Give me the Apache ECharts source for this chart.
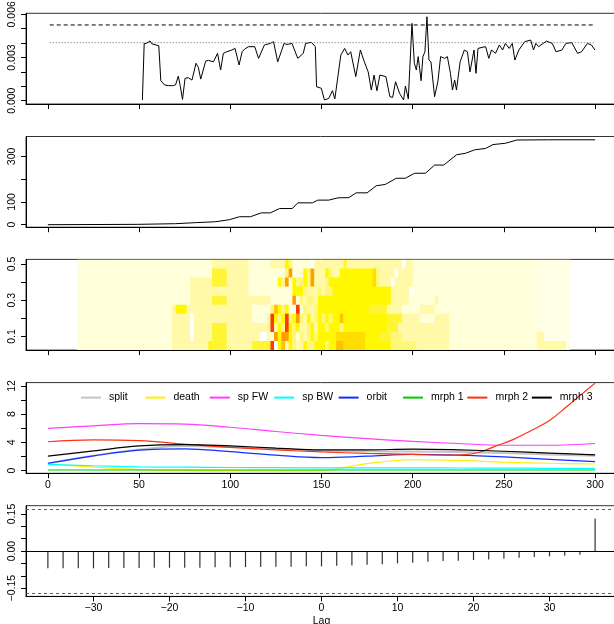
<!DOCTYPE html>
<html><head><meta charset="utf-8">
<script src="https://cdn.jsdelivr.net/npm/echarts@6/dist/echarts.min.js"></script>
<style>html,body{margin:0;padding:0;background:#fff}#c{width:614px;height:624px}</style>
</head><body><div id="c"></div><script>
// ---------- Panel 1: rate series (values in units of 0.001) ----------
const rateX = [51.8,52.8,54,56,57,60.8,61.9,64,66,68.3,70,71.5,72.6,73.8,75.2,77,79,81.2,82.5,83.8,86.5,88,90.8,93,94.7,96.2,98,100.5,102.6,104.8,106.5,108,110,113.4,115.5,118.7,122,123.7,126,129.5,131,133.8,137,140,141.3,144.5,146.6,147.3,149.9,151.6,154,156,157.3,160.6,162.7,164.5,166,168.8,171.3,173.5,175.6,177.3,178.8,180.4,182,185.3,187.5,189,190.6,192.8,195,196,197.6,199.6,200.9,202,203,204.6,205.6,206.7,207.8,208.9,210,212,213.8,215.3,217.5,219,220.7,221.8,223,224,226,228.3,230,231.4,233.6,234.7,235.8,238,240,241.7,243.2,245.4,247.5,249.3,250.8,252.9,254.6,256,258.2,261.4,264.7,266.2,267.5,269,273.3,276.5,278.6,281.8,284,287.2,290.4,292.6,295.8,298,299.9];
const rateK = [0.05,3.98,3.98,4.15,3.95,3.82,1.39,1.09,1.05,1.04,1.1,1.71,1.0,0.09,1.55,1.6,1.43,2.6,2.3,1.5,2.75,2.8,2.7,3.29,2.13,3.29,3.4,3.5,3.63,2.48,3.4,3.6,3.75,3.75,2.94,3.87,3.98,4.1,2.7,3.98,3.9,3.98,2.94,3.29,3.98,4.05,3.75,0.97,0.86,0.05,0.16,0.7,0.12,3.17,3.63,3.17,3.4,1.67,3.52,2.7,2.0,0.74,1.78,0.69,1.78,1.67,0.28,0.23,1.32,0.51,0.05,1.02,0.12,5.37,2.6,2.13,3.06,1.39,3.06,3.4,5.83,2.82,2.7,0.28,1.32,3.06,2.94,3.06,1.9,0.74,1.43,0.74,2.7,3.52,3.4,2.0,3.52,1.9,3.63,3.7,3.75,2.94,3.52,3.29,3.87,3.52,3.98,3.63,3.98,2.82,3.52,4.1,4.21,3.52,3.98,3.75,4.14,3.98,3.4,3.52,3.98,4.03,3.29,3.4,3.98,3.87,3.52];
const rateDashed = 5.26;
const rateDotted = 4.03;
const rateRefX = [1, 300];

// ---------- Panel 2: cumulative count ----------
const cumX = [0,49,70,81,92,99.5,105,111,117,122,127,134,137,145,148,154,159,165,169,175,180,185,191,196,201,207,212,217,224,229,234,240,244,251,257,274,300];
const cumY = [0,1.5,4.4,9,13,22,35,35,52,52,71,71,96,96,108,108,118,119,140,140,171,177,204,204,226,226,262,262,307,314,329,335,352,358,372,373,373];

// ---------- Panel 3: heat map (runs: [from, to, level]) ----------
const heatFreq = [0.50,0.45,0.40,0.35,0.30,0.25,0.20,0.15,0.10,0.05];
const heatRows = [
 [[16,90,1],[90,110,3],[110,122,1],[122,130,3],[130,132,6],[132,134,4],[134,144,1],[144,146,0],[146,162,3],[162,164,5],[164,194,3],[194,196,0],[196,200,3],[200,268,1],[268,286,2]],
 [[16,90,1],[90,98,5],[98,110,3],[110,130,1],[130,132,4],[132,134,9],[134,140,1],[140,142,6],[142,144,4],[144,146,9],[146,152,3],[152,154,6],[154,156,4],[156,160,3],[160,178,6],[178,180,7],[180,182,4],[182,190,3],[190,192,0],[192,200,3],[200,268,1],[268,286,2]],
 [[16,78,1],[78,90,3],[90,98,5],[98,110,3],[110,126,1],[126,128,6],[128,130,4],[130,132,9],[132,134,1],[134,136,6],[136,140,4],[140,142,6],[142,144,4],[144,146,9],[146,152,3],[152,154,4],[154,178,6],[178,180,7],[180,182,4],[182,188,3],[188,190,0],[190,200,3],[200,268,1],[268,286,2]],
 [[16,78,1],[78,110,3],[110,134,1],[134,140,6],[140,142,4],[142,148,3],[148,150,4],[150,152,3],[152,156,4],[156,188,6],[188,198,3],[198,200,0],[200,268,1],[268,286,2]],
 [[16,78,1],[78,90,3],[90,98,5],[98,122,3],[122,134,1],[134,136,9],[136,138,1],[138,140,4],[140,142,3],[142,146,4],[146,148,3],[148,188,6],[188,198,3],[198,212,1],[212,214,3],[214,268,1],[268,286,2]],
 [[16,68,1],[68,70,3],[70,76,6],[76,112,3],[112,122,1],[122,124,4],[124,126,8],[126,128,6],[128,130,4],[130,132,6],[132,134,1],[134,136,0],[136,138,10],[138,140,1],[140,142,4],[142,146,3],[146,148,4],[148,176,6],[176,186,5],[186,194,3],[194,204,1],[204,212,3],[212,268,1],[268,286,2]],
 [[16,68,1],[68,78,3],[78,80,0],[80,112,3],[112,120,1],[120,122,3],[122,124,10],[124,126,6],[126,128,4],[128,130,6],[130,132,10],[132,134,4],[134,136,6],[136,138,9],[138,140,4],[140,142,3],[142,144,6],[144,146,3],[146,148,4],[148,150,6],[150,152,4],[152,154,6],[154,156,4],[156,160,6],[160,162,8],[162,186,6],[186,194,5],[194,204,3],[204,212,1],[212,220,3],[220,268,1],[268,286,2]],
 [[16,68,1],[68,78,3],[78,80,0],[80,90,3],[90,98,5],[98,122,3],[122,124,10],[124,126,3],[126,128,6],[128,130,4],[130,132,10],[132,134,6],[134,136,4],[136,138,6],[138,142,3],[142,144,4],[144,146,6],[146,148,3],[148,152,6],[152,154,4],[154,160,6],[160,162,4],[162,186,6],[186,192,5],[192,220,3],[220,268,1],[268,286,2]],
 [[16,68,1],[68,78,3],[78,80,0],[80,90,3],[90,98,5],[98,116,3],[116,120,0],[120,122,3],[122,124,1],[124,126,9],[126,128,6],[128,132,9],[132,134,6],[134,136,4],[136,138,1],[138,140,4],[140,142,3],[142,144,4],[144,146,6],[146,148,4],[148,158,6],[158,174,7],[174,182,6],[182,188,5],[188,194,4],[194,220,3],[220,268,1],[268,272,3],[272,286,2]],
 [[16,68,1],[68,88,3],[88,90,6],[90,98,5],[98,112,3],[112,122,5],[122,124,10],[124,126,0],[126,128,6],[128,130,8],[130,132,3],[132,134,6],[134,136,4],[136,140,3],[140,142,6],[142,146,4],[146,152,6],[152,154,4],[154,158,6],[158,162,8],[162,174,7],[174,188,6],[188,202,4],[202,220,3],[220,268,1],[268,284,3],[284,286,2]]
];
const heatPalette = ['#FFFFFF','#FFFFDA','#FFFFE6','#FFF9A8','#FFF67C','#FFF535','#FFF800','#FFDD00','#FFC200','#FF9E00','#FF3C00'];

// ---------- Panel 4: smoothed rates ----------
const smX = [0,25,50,75,100,125,150,175,200,225,250,275,300];
const smSplit = [1.0,2.1,3.0,3.5,3.35,3.1,2.85,2.75,2.7,2.65,2.5,2.3,2.1];
const smDeath = [0.95,0.5,0.15,0.03,0.0,0.0,0.05,1.0,1.55,1.45,1.2,1.05,0.95];
const smSpFW = [6.0,6.35,6.65,6.6,6.15,5.55,5.0,4.55,4.15,3.85,3.6,3.6,3.85];
const smSpBW = [0.9,0.7,0.55,0.5,0.45,0.42,0.4,0.4,0.4,0.38,0.36,0.34,0.33];
const smOrbit = [1.05,2.1,2.9,3.1,2.7,2.2,1.85,2.05,2.3,2.2,1.95,1.6,1.28];
const smMrph1 = [0.1,0.1,0.1,0.1,0.1,0.1,0.1,0.1,0.1,0.1,0.1,0.1,0.1];
const smMrph3 = [2.05,2.8,3.5,3.7,3.5,3.2,2.95,2.95,3.05,2.95,2.75,2.5,2.25];
const m2X = [0,25,50,75,100,125,150,175,200,220,235,245,255,265,275,285,292,300];
const smMrph2 = [4.1,4.35,4.25,3.75,3.3,2.95,2.65,2.45,2.3,2.2,2.5,3.45,4.4,5.7,7.1,9.2,10.7,12.4];
const legendNames = ['split','death','sp FW','sp BW','orbit','mrph 1','mrph 2','mrph 3'];
const legendColors = ['#C4C4C4','#FFF000','#FF3CFF','#00FFFF','#1030FF','#00CC00','#FF3010','#000000'];

// ---------- Panel 5: cross-correlation ----------
const ccfLag = [-36,-34,-32,-30,-28,-26,-24,-22,-20,-18,-16,-14,-12,-10,-8,-6,-4,-2,0,2,4,6,8,10,12,14,16,18,20,22,24,26,28,30,32,34,36];
const ccfVal = [-0.070,-0.070,-0.070,-0.070,-0.069,-0.069,-0.069,-0.0676,-0.0676,-0.0676,-0.0676,-0.066,-0.066,-0.065,-0.065,-0.0635,-0.0635,-0.062,-0.062,-0.0595,-0.058,-0.055,-0.053,-0.050,-0.047,-0.043,-0.0405,-0.039,-0.0365,-0.034,-0.031,-0.027,-0.024,-0.0216,-0.019,-0.015,0.132];
const ccfBound = 0.169;

// ---------- Axis ticks / labels ----------
const tTicks = [0,50,100,150,200,250,300];
const p1Ticks = [0,1,2,3,4,5,6], p1Labels = [0,3,6];
const p2Ticks = [0,100,200,300], p2Labels = [0,100,300];
const p3Ticks = [0.1,0.2,0.3,0.4,0.5], p3Labels = [0.1,0.3,0.5];
const p4Ticks = [0,2,4,6,8,10,12], p4Labels = [0,4,8,12];
const p5YTicks = [-0.15,-0.10,-0.05,0,0.05,0.10,0.15], p5YLabels = [-0.15,0,0.15];
const p5XTicks = [-30,-20,-10,0,10,20,30];

const FONT = '"Liberation Sans", Arial, Helvetica, sans-serif';
const FS = 10.5;
const L = 26, W = 591, H = 90.7;
const tops = [13.3, 136.5, 259.4, 382.6, 505.7];
const minus = s => String(s).replace('-', '\u2212');

const grids = tops.map(t => ({left: L, top: t, width: W, height: H, show: true, containLabel: false, outerBoundsMode: 'none',
  borderColor: '#333', borderWidth: 1, backgroundColor: 'transparent'}));

function xAx(i, min, max, ticks, showLabels, fmt, name) {
  return {
    type: 'value', gridIndex: i, min: min, max: max, position: 'bottom',
    axisLine: {show: true, onZero: false, lineStyle: {color: '#000', width: 1}},
    axisTick: {show: true, length: 5, customValues: ticks, lineStyle: {color: '#000'}},
    axisLabel: {show: showLabels, customValues: ticks, margin: 6, color: '#000', fontSize: FS, fontFamily: FONT, formatter: fmt || (v => String(v))},
    splitLine: {show: false},
    name: name || '', nameLocation: 'middle', nameGap: 19,
    nameTextStyle: {color: '#000', fontSize: FS, fontFamily: FONT}
  };
}
function yAx(i, min, max, ticks, labels, fmt) {
  return {
    type: 'value', gridIndex: i, min: min, max: max,
    axisLine: {show: true, onZero: false, lineStyle: {color: '#000', width: 1}},
    axisTick: {show: true, length: 5, customValues: ticks, lineStyle: {color: '#000'}},
    axisLabel: {show: true, customValues: labels, rotate: 90, margin: 8, color: '#000', fontSize: FS, fontFamily: FONT, formatter: fmt || (v => String(v))},
    splitLine: {show: false}
  };
}

const xAxes = [
  xAx(0, -12, 312, tTicks, false),
  xAx(1, -12, 312, tTicks, false),
  xAx(2, -12, 312, tTicks, false),
  xAx(3, -12, 312, tTicks, true),
  xAx(4, -38.88, 38.88, p5XTicks, true, v => minus(v), 'Lag')
];
const yAxes = [
  yAx(0, -0.23, 6.07, p1Ticks, p1Labels, v => (v / 1000).toFixed(3)),
  yAx(1, -11, 387.5, p2Ticks, p2Labels),
  yAx(2, 0.025, 0.525, p3Ticks, p3Labels, v => v.toFixed(1)),
  yAx(3, -0.37, 12.47, p4Ticks, p4Labels),
  yAx(4, -0.1836, 0.1836, p5YTicks, p5YLabels, v => minus(v.toFixed(2)))
];

const zip = (a, b) => a.map((v, k) => [v, b[k]]);
const lineS = (xi, name, data, color, width, extra) => Object.assign({
  type: 'line', name: name, xAxisIndex: xi, yAxisIndex: xi, data: data,
  symbol: 'none', showSymbol: false, silent: true, animation: false,
  lineStyle: {color: color, width: width}, itemStyle: {color: color}
}, extra || {});

const heatData = [];
heatRows.forEach((row, r) => row.forEach(seg => heatData.push([seg[0], seg[1], heatFreq[r], seg[2]])));

const series = [
  lineS(0, 'rate', zip(rateX, rateK), '#000', 1),
  lineS(0, 'dashed', rateRefX.map(x => [x, rateDashed]), '#000', 1, {lineStyle: {color: '#000', width: 1, type: [4, 3]}}),
  lineS(0, 'dotted', rateRefX.map(x => [x, rateDotted]), '#666', 1, {lineStyle: {color: '#666', width: 1, type: [1, 2]}}),
  lineS(1, 'cum', zip(cumX, cumY), '#000', 1),
  {
    type: 'custom', xAxisIndex: 2, yAxisIndex: 2, data: heatData, clip: true, silent: true, animation: false,
    encode: {x: [0, 1], y: 2},
    renderItem: (params, api) => {
      const p0 = api.coord([api.value(0), api.value(2) + 0.025]);
      const p1 = api.coord([api.value(1), api.value(2) - 0.025]);
      return {type: 'rect', shape: {x: p0[0], y: p0[1], width: p1[0] - p0[0] + 0.5, height: p1[1] - p0[1] + 0.5},
              style: {fill: heatPalette[api.value(3)], stroke: null}};
    }
  },
  lineS(3, 'split', zip(smX, smSplit), legendColors[0], 2, {smooth: 0.4}),
  lineS(3, 'death', zip(smX, smDeath), legendColors[1], 1.2, {smooth: 0.4}),
  lineS(3, 'sp FW', zip(smX, smSpFW), legendColors[2], 1.2, {smooth: 0.4}),
  lineS(3, 'sp BW', zip(smX, smSpBW), legendColors[3], 1.2, {smooth: 0.4}),
  lineS(3, 'orbit', zip(smX, smOrbit), legendColors[4], 1.2, {smooth: 0.4}),
  lineS(3, 'mrph 1', zip(smX, smMrph1), legendColors[5], 1.2, {smooth: 0.4}),
  lineS(3, 'mrph 2', zip(m2X, smMrph2), legendColors[6], 1.2, {smooth: 0.4}),
  lineS(3, 'mrph 3', zip(smX, smMrph3), legendColors[7], 1.2, {smooth: 0.4}),
  {
    type: 'bar', name: 'ccf', xAxisIndex: 4, yAxisIndex: 4, data: zip(ccfLag, ccfVal), barWidth: 1.2,
    itemStyle: {color: '#333'}, silent: true, animation: false,
    markLine: {
      symbol: 'none', silent: true, animation: false, label: {show: false},
      data: [
        {yAxis: 0, lineStyle: {color: '#000', width: 1, type: 'solid'}},
        {yAxis: ccfBound, lineStyle: {color: '#3355EE', width: 1, type: [3, 3]}},
        {yAxis: -ccfBound, lineStyle: {color: '#3355EE', width: 1, type: [3, 3]}}
      ]
    }
  }
];

const legends = legendNames.map((n, i) => ({
  data: [n], left: 80 + 64.4 * i, top: 392, orient: 'horizontal',
  itemWidth: 20, itemHeight: 14, itemGap: 0, padding: 0, selectedMode: false,
  itemStyle: {opacity: 0, borderWidth: 0},
  textStyle: {color: '#000', fontSize: FS, fontFamily: FONT, padding: [0, 0, 0, 3]}
}));

const chart = echarts.init(document.getElementById('c'), null, {renderer: 'canvas'});
chart.setOption({
  animation: false,
  backgroundColor: '#fff',
  grid: grids,
  xAxis: xAxes,
  yAxis: yAxes,
  legend: legends,
  series: series
});
</script></body></html>
